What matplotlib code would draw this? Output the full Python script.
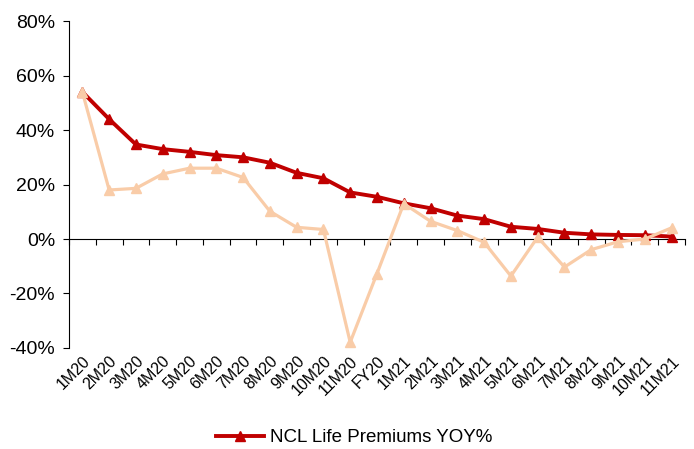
import matplotlib.pyplot as plt
from matplotlib.ticker import FuncFormatter

plt.rcParams['font.family'] = ['Liberation Sans', 'DejaVu Sans']

months = ['1M20', '2M20', '3M20', '4M20', '5M20', '6M20', '7M20', '8M20', '9M20', '10M20', '11M20',
          'FY20', '1M21', '2M21', '3M21', '4M21', '5M21', '6M21', '7M21', '8M21', '9M21', '10M21', '11M21']

# NCL life premiums, cumulative YoY growth (%)
ncl_yoy = [54.0, 44.0, 34.7, 33.0, 32.0, 30.8, 30.0, 28.0, 24.3, 22.3, 17.1,
           15.5, 13.1, 11.3, 8.6, 7.3, 4.5, 3.7, 2.3, 1.7, 1.5, 1.4, 0.9]

# second (unlabelled) series
other_yoy = [54.0, 18.0, 18.6, 23.9, 26.0, 26.0, 22.6, 10.2, 4.3, 3.5, -37.9,
             -12.7, 13.0, 6.5, 3.1, -1.2, -13.6, 0.7, -10.3, -3.9, -1.0, 0.0, 4.1]

x = list(range(len(months)))

fig = plt.figure(figsize=(6.94, 4.49), dpi=100)
ax = fig.add_axes([0.0994, 0.225, 0.8876, 0.728])

# move spines first: set_position resets the tick objects
ax.spines['right'].set_visible(False)
ax.spines['bottom'].set_visible(False)
ax.spines['top'].set_position(('data', 0))
ax.spines['top'].set_linewidth(0.8)
ax.spines['left'].set_linewidth(0.8)

ax.plot(x, ncl_yoy, color='#C00000', lw=2.8, marker='^', ms=7, label='NCL Life Premiums YOY%', zorder=3)
ax.plot(x, other_yoy, color='#F9CCA8', lw=2.3, marker='^', ms=7, zorder=4)

ax.set_xlim(-0.5, len(months) - 0.5)
ax.set_ylim(-40, 80)
ax.set_yticks(range(-40, 81, 20))
ax.yaxis.set_major_formatter(FuncFormatter(lambda v, p: f'{v:.0f}%'))
ax.tick_params(axis='y', direction='out', length=4, width=0.8, labelsize=14, pad=6)

# category labels at the bottom, small ticks on the zero line
ax.set_xticks(x)
ax.set_xticklabels(months, rotation=45, ha='right', rotation_mode='anchor', fontsize=11.5)
ax.tick_params(axis='x', which='major', length=0, pad=4)
ax.set_xticks([i - 0.5 for i in range(len(months) + 1)], minor=True)
ax.tick_params(axis='x', which='minor', top=True, bottom=False, direction='in', length=4, width=0.8)

fig.legend(loc='center', bbox_to_anchor=(0.51, 0.025), frameon=False, fontsize=13.5,
           handlelength=2.6, handletextpad=0.3)

plt.savefig('out.png', dpi=100)
